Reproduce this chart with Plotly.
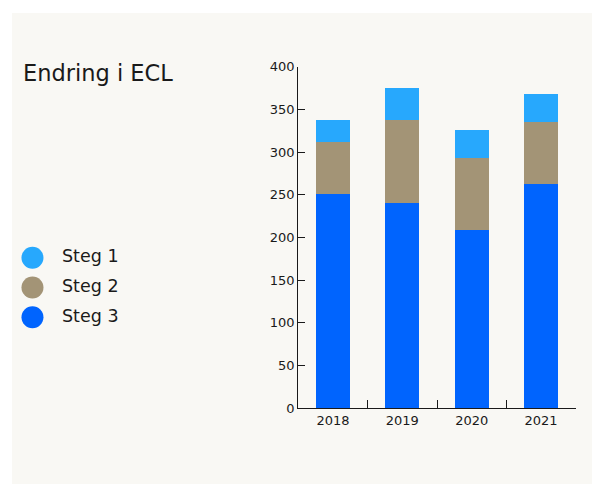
import plotly.graph_objects as go

years = ["2018", "2019", "2020", "2021"]
series_names = ["Steg 1", "Steg 2", "Steg 3"]
steg3 = [251, 240, 209, 263]
steg2 = [61, 98, 84, 72]
steg1 = [26, 37, 33, 33]
colors = {"Steg 1": "#27a8fd", "Steg 2": "#a39476", "Steg 3": "#0064fe"}
y_ticks = [0, 50, 100, 150, 200, 250, 300, 350, 400]

W, H = 593, 484
FONT = "DejaVu Sans, sans-serif"
TXT = "#1a1a1a"

fig = go.Figure()
for name, vals in [("Steg 3", steg3), ("Steg 2", steg2), ("Steg 1", steg1)]:
    fig.add_trace(go.Bar(x=years, y=vals, name=name, marker_color=colors[name],
                         marker_line_width=0, showlegend=False,
                         xaxis="x", yaxis="y"))

# custom legend: circles + labels
fig.add_trace(go.Scatter(
    x=[0] * len(series_names), y=series_names, mode="markers",
    marker=dict(size=22, color=[colors[n] for n in series_names]),
    showlegend=False, xaxis="x2", yaxis="y2", hoverinfo="skip", cliponaxis=False))
fig.add_trace(go.Scatter(
    x=[1.41] * len(series_names), y=series_names, mode="text",
    text=series_names, textposition="middle right",
    textfont=dict(size=17.5, color=TXT, family=FONT),
    showlegend=False, xaxis="x2", yaxis="y2", hoverinfo="skip", cliponaxis=False))

x0, x1 = 298.3, 575.7
y_top, y_bot = 66.7, 408.3

fig.update_layout(
    template="none",
    width=W, height=H, margin=dict(l=0, r=0, t=0, b=0, autoexpand=False),
    paper_bgcolor="white", plot_bgcolor="rgba(0,0,0,0)",
    barmode="stack", bargap=0.51,
    font=dict(family=FONT, color=TXT, size=13),
    shapes=[dict(type="rect", xref="paper", yref="paper", x0=12 / W, x1=592 / W,
                 y0=0, y1=1 - 13 / H, fillcolor="#f9f8f4", line_width=0, layer="below")],
    annotations=[dict(text="Endring i ECL", xref="paper", yref="paper",
                      x=21 / W, y=1 - 73 / H, xanchor="left", yanchor="middle",
                      showarrow=False, font=dict(size=22.5, color=TXT, family=FONT))],
    xaxis=dict(domain=[x0 / W, x1 / W], type="category", showline=True,
               linecolor=TXT, linewidth=1.3, ticks="inside", tickson="boundaries",
               ticklen=8, tickcolor=TXT, tickwidth=1.3, showgrid=False,
               automargin=False, tickfont=dict(size=13, color=TXT), anchor="y"),
    yaxis=dict(domain=[1 - y_bot / H, 1 - y_top / H], range=[0, 400],
               tickvals=y_ticks, showline=True, linecolor=TXT, linewidth=1.3,
               ticks="inside", ticklen=7, tickcolor=TXT, tickwidth=1.3,
               showgrid=False, zeroline=False, automargin=False,
               tickfont=dict(size=13, color=TXT), anchor="x"),
    xaxis2=dict(domain=[22 / W, 200 / W], range=[-0.5, 8], visible=False,
                automargin=False, anchor="y2"),
    yaxis2=dict(domain=[1 - 332 / H, 1 - 243 / H], range=[2.5, -0.5],
                type="category", categoryorder="array", categoryarray=series_names,
                autorange=False, visible=False, automargin=False, anchor="x2"),
)

post = (
    "document.documentElement.style.margin='0';"
    "document.documentElement.style.overflow='hidden';"
    "document.body.style.margin='0';"
    "document.body.style.overflow='hidden';"
)

fig.write_html("out.html", config={"displayModeBar": False}, post_script=post)
